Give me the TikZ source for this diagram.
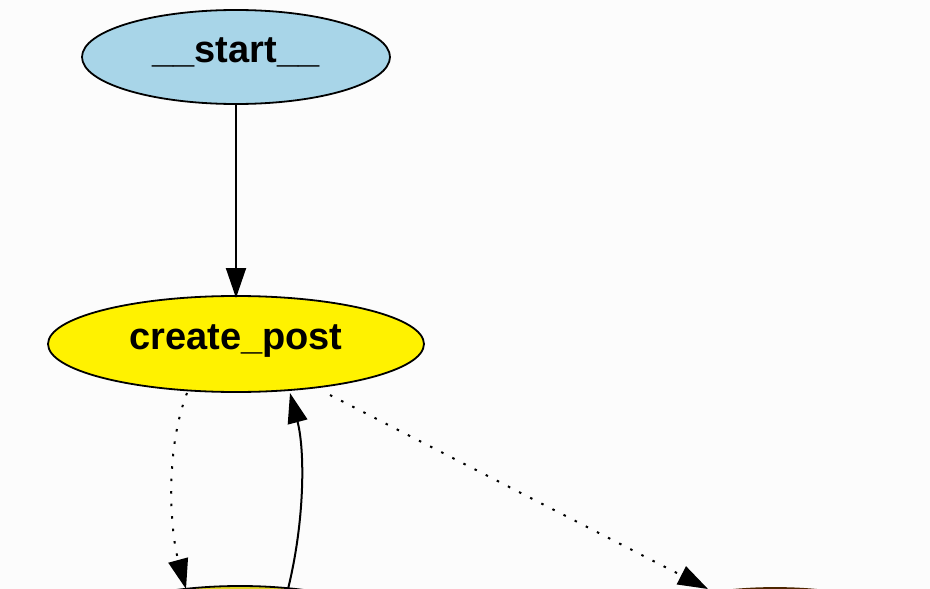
\documentclass[tikz,border=0pt]{standalone}
\usepackage{fontspec}
\setmainfont{Liberation Sans}
\usetikzlibrary{arrows.meta}
\definecolor{lblue}{HTML}{A8D5E8}
\begin{document}
\begin{tikzpicture}[x=1pt,y=-1pt,
  lbl/.style={font=\bfseries\fontsize{38}{42}\selectfont},
  edge/.style={line width=2pt,-{Triangle[length=30pt,width=20pt]}},
  dots/.style={dash pattern=on 2.5pt off 10pt}]
\fill[white!98!gray] (0,0) rectangle (930,589);
\useasboundingbox (0,0) rectangle (930,589);
\clip (0,0) rectangle (930,589);
\filldraw[fill=lblue,line width=1.8pt] (236,57) ellipse [x radius=154, y radius=47];
\node[lbl] (start) at (236,52) {\_\_start\_\_};
\coordinate (sb) at (236,104);
\filldraw[fill=yellow,line width=1.8pt] (236,344) ellipse [x radius=188, y radius=48];
\node[lbl] (cp) at (236,341) {create\_post};
\coordinate (ct) at (236,298);
\filldraw[fill=yellow!85!black,line width=1.8pt] (240,634) ellipse [x radius=160, y radius=48];
\filldraw[fill=orange!80!red,draw=black!70!orange,line width=1.8pt] (775,636) ellipse [x radius=150, y radius=48];
\coordinate (a1) at (187,393);
\coordinate (a2) at (186,589);
\coordinate (b1) at (288,589);
\coordinate (b2) at (290,393);
\coordinate (c1) at (330,395);
\coordinate (c2) at (708,589);
\draw[edge] (sb) -- (ct);
\draw[edge,dots] (a1) .. controls (165,450) and (170,530) .. (a2);
\draw[edge] (b1) .. controls (305,520) and (305,450) .. (b2);
\draw[edge,dots] (c1) -- (c2);
\end{tikzpicture}
\end{document}
